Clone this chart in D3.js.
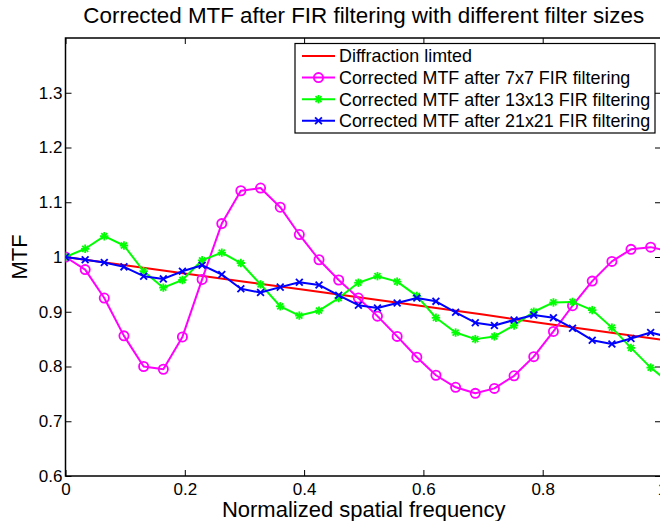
<!DOCTYPE html>
<html>
<head>
<meta charset="utf-8">
<script src="https://cdn.jsdelivr.net/npm/d3@7"></script>
<style>
  body { margin: 0; background: #fff; }
  text { font-family: "Liberation Sans", Arial, sans-serif; fill: #000; }
</style>
</head>
<body>
<div class="mtf-chart"></div>
<script>
const WIDTH = 660;
const HEIGHT = 521;

// plot box (the right border falls just outside the window, like the original)
const PLOT_LEFT = 65.5, PLOT_RIGHT = 662, PLOT_TOP = 38, PLOT_BOTTOM = 476;

// sample frequencies of the filtered curves
const freq = [0, 0.033, 0.065, 0.098, 0.131, 0.164, 0.196, 0.229, 0.262, 0.294,
  0.327, 0.360, 0.392, 0.425, 0.458, 0.491, 0.523, 0.556, 0.589, 0.621,
  0.654, 0.687, 0.719, 0.752, 0.785, 0.818, 0.850, 0.883, 0.916, 0.948,
  0.981, 1.014];

const fir7 = [1.000, 0.977, 0.925, 0.856, 0.800, 0.795, 0.854, 0.959, 1.061, 1.121,
  1.126, 1.091, 1.041, 0.995, 0.958, 0.925, 0.892, 0.855, 0.817, 0.784,
  0.762, 0.751, 0.760, 0.783, 0.818, 0.864, 0.911, 0.956, 0.992, 1.014,
  1.018, 1.010];

const fir13 = [1.000, 1.015, 1.038, 1.021, 0.974, 0.944, 0.958, 0.994, 1.008, 0.989,
  0.950, 0.910, 0.893, 0.902, 0.925, 0.953, 0.965, 0.955, 0.929, 0.889,
  0.862, 0.850, 0.855, 0.875, 0.900, 0.917, 0.918, 0.903, 0.871, 0.834,
  0.798, 0.769];

const fir21 = [1.000, 0.995, 0.990, 0.982, 0.965, 0.960, 0.974, 0.985, 0.968, 0.942,
  0.935, 0.945, 0.954, 0.949, 0.930, 0.912, 0.907, 0.916, 0.925, 0.919,
  0.899, 0.880, 0.875, 0.885, 0.894, 0.889, 0.870, 0.848, 0.841, 0.851,
  0.862, 0.853];

// diffraction limited curve, read at coarser steps
const diffFreq = [0, 0.1, 0.2, 0.3, 0.4, 0.5, 0.6, 0.7, 0.8, 0.9, 1.0];
const diffMTF = [1.000, 0.985, 0.970, 0.955, 0.940, 0.925, 0.910, 0.895, 0.879, 0.864, 0.849];

const xTicks = [0, 0.2, 0.4, 0.6, 0.8, 1];
const yTicks = [0.6, 0.7, 0.8, 0.9, 1.0, 1.1, 1.2, 1.3];

const legendNames = ["Diffraction limted",
  "Corrected MTF after 7x7 FIR filtering",
  "Corrected MTF after 13x13 FIR filtering",
  "Corrected MTF after 21x21 FIR filtering"];

var series = [
  {name: legendNames[0], xs: diffFreq, ys: diffMTF, color: "#ff0000", marker: "none"},
  {name: legendNames[1], xs: freq, ys: fir7, color: "#ff00ff", marker: "circle"},
  {name: legendNames[2], xs: freq, ys: fir13, color: "#00ff00", marker: "star"},
  {name: legendNames[3], xs: freq, ys: fir21, color: "#0000ff", marker: "cross"}
];

var svg = d3.select('.mtf-chart')
  .append('svg')
  .attr('width', WIDTH)
  .attr('height', HEIGHT);

var x = d3.scaleLinear().domain([0, 1]).range([PLOT_LEFT, PLOT_RIGHT]);
var y = d3.scaleLinear().domain([0.6, 1.4]).range([PLOT_BOTTOM, PLOT_TOP]);

svg.append("defs").append("clipPath").attr("id", "plot-clip")
  .append("rect")
  .attr("x", PLOT_LEFT).attr("y", PLOT_TOP)
  .attr("width", PLOT_RIGHT - PLOT_LEFT).attr("height", PLOT_BOTTOM - PLOT_TOP);

var fmt = d3.format("~g");

function styleAxis(g) {
  g.select(".domain").remove();
  g.selectAll("line").attr("stroke", "#000").attr("stroke-width", 1);
  g.selectAll("text").style("font-size", "17px").attr("fill", "#000");
}

// tick marks point inwards on all four sides
svg.append("g")
  .attr("transform", "translate(0," + PLOT_BOTTOM + ")")
  .call(d3.axisBottom(x).tickValues(xTicks).tickFormat(fmt).tickSizeInner(-6).tickSizeOuter(0).tickPadding(7))
  .call(styleAxis);

svg.append("g")
  .attr("transform", "translate(" + PLOT_LEFT + ",0)")
  .call(d3.axisLeft(y).tickValues(yTicks).tickFormat(fmt).tickSizeInner(-6).tickSizeOuter(0).tickPadding(3))
  .call(styleAxis);

svg.append("g")
  .attr("transform", "translate(0," + PLOT_TOP + ")")
  .call(d3.axisTop(x).tickValues(xTicks).tickFormat("").tickSizeInner(-6).tickSizeOuter(0))
  .call(styleAxis);

svg.append("g")
  .attr("transform", "translate(" + PLOT_RIGHT + ",0)")
  .call(d3.axisRight(y).tickValues(yTicks).tickFormat("").tickSizeInner(-7).tickSizeOuter(0))
  .call(styleAxis);

// box
svg.append("rect")
  .attr("x", PLOT_LEFT).attr("y", PLOT_TOP)
  .attr("width", PLOT_RIGHT - PLOT_LEFT).attr("height", PLOT_BOTTOM - PLOT_TOP)
  .attr("fill", "none").attr("stroke", "#000").attr("stroke-width", 1.5);

function drawMarker(g, type, cx, cy, color) {
  if (type == "circle") {
    g.append("circle").attr("cx", cx).attr("cy", cy).attr("r", 4.6)
      .attr("fill", "none").attr("stroke", color).attr("stroke-width", 1.8);
  } else if (type == "star") {
    var s = 4.2, d = 3;
    [[-s, 0, s, 0], [0, -s, 0, s], [-d, -d, d, d], [-d, d, d, -d]].forEach(function(p){
      g.append("line").attr("x1", cx + p[0]).attr("y1", cy + p[1])
        .attr("x2", cx + p[2]).attr("y2", cy + p[3])
        .attr("stroke", color).attr("stroke-width", 1.8);
    });
  } else if (type == "cross") {
    var c = 3.4;
    [[-c, -c, c, c], [-c, c, c, -c]].forEach(function(p){
      g.append("line").attr("x1", cx + p[0]).attr("y1", cy + p[1])
        .attr("x2", cx + p[2]).attr("y2", cy + p[3])
        .attr("stroke", color).attr("stroke-width", 1.8);
    });
  }
}

var line = d3.line()
  .x(function(d){ return x(d[0]); })
  .y(function(d){ return y(d[1]); });

var plotG = svg.append("g").attr("clip-path", "url(#plot-clip)");

series.forEach(function(s){
  var pts = s.xs.map(function(v, i){ return [v, s.ys[i]]; });
  plotG.append("path")
    .datum(pts)
    .attr("d", line)
    .attr("fill", "none")
    .attr("stroke", s.color)
    .attr("stroke-width", 2)
    .attr("stroke-linejoin", "round");
  var mg = plotG.append("g");
  pts.forEach(function(p){
    drawMarker(mg, s.marker, x(p[0]), y(p[1]), s.color);
  });
});

// legend
var legend = svg.append("g");
legend.append("rect")
  .attr("x", 295).attr("y", 43.5)
  .attr("width", 360).attr("height", 89.5)
  .attr("fill", "#fff").attr("stroke", "#000").attr("stroke-width", 1.2);

series.forEach(function(s, i){
  var ly = 56 + i * 21.6;
  legend.append("line")
    .attr("x1", 302).attr("x2", 335).attr("y1", ly).attr("y2", ly)
    .attr("stroke", s.color).attr("stroke-width", 2);
  drawMarker(legend, s.marker, 318.5, ly, s.color);
  legend.append("text")
    .attr("x", 339).attr("y", ly + 6.3)
    .style("font-size", "17.9px")
    .text(s.name);
});

svg.append("text")
  .attr("x", (PLOT_LEFT + PLOT_RIGHT) / 2)
  .attr("y", 23)
  .attr("text-anchor", "middle")
  .style("font-size", "22.4px")
  .text("Corrected MTF after FIR filtering with different filter sizes");

svg.append("text")
  .attr("x", (PLOT_LEFT + PLOT_RIGHT) / 2)
  .attr("y", 516.5)
  .attr("text-anchor", "middle")
  .style("font-size", "22px")
  .text("Normalized spatial frequency");

svg.append("text")
  .attr("transform", "translate(27," + (PLOT_TOP + PLOT_BOTTOM) / 2 + ") rotate(-90)")
  .attr("text-anchor", "middle")
  .style("font-size", "22px")
  .text("MTF");
</script>
</body>
</html>
